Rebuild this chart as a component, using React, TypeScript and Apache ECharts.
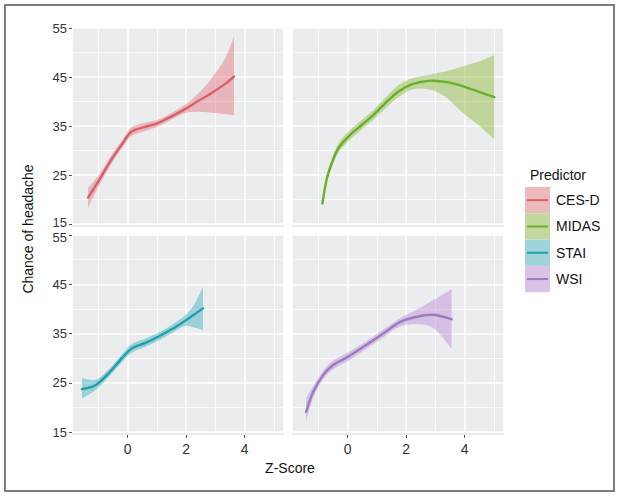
import React, { useEffect, useRef } from 'react';
import * as echarts from 'echarts';

// ---- data ----
const predictors = ['CES-D', 'MIDAS', 'STAI', 'WSI'];

const cesdX = [-1.35, -1.01, -0.56, -0.21, 0.07, 0.3, 0.7, 1.04, 1.38, 1.95, 2.41, 2.86, 3.32, 3.64];
const cesdMean = [20.4, 23.6, 28.1, 31.1, 33.5, 34.3, 35.0, 35.6, 36.6, 38.4, 40.1, 41.7, 43.5, 45.1];
const cesdUpper = [22.4, 24.8, 29.0, 31.9, 34.4, 35.2, 35.8, 36.3, 37.3, 39.3, 41.6, 44.6, 48.6, 53.2];
const cesdLower = [18.3, 22.4, 27.2, 30.3, 32.6, 33.4, 34.2, 34.9, 35.9, 37.6, 37.9, 37.7, 37.4, 37.2];

const midasX = [-0.86, -0.72, -0.54, -0.32, 0.02, 0.48, 0.82, 1.28, 1.73, 2.19, 2.76, 3.33, 3.9, 4.47, 5.02];
const midasMean = [19.2, 24.0, 27.4, 30.4, 32.8, 35.2, 36.9, 39.6, 42.0, 43.5, 44.2, 44.0, 43.2, 42.0, 40.9];
const midasUpper = [19.6, 24.6, 28.3, 31.4, 33.8, 36.2, 37.9, 40.7, 43.3, 44.7, 45.4, 46.1, 47.1, 48.1, 49.5];
const midasLower = [18.8, 23.4, 26.6, 29.5, 31.9, 34.3, 35.9, 38.5, 40.8, 42.4, 42.5, 41.0, 37.9, 35.2, 32.3];

const staiX = [-1.56, -1.1, -0.65, -0.19, 0.15, 0.61, 1.06, 1.52, 1.97, 2.27, 2.58];
const staiMean = [23.7, 24.5, 26.9, 30.0, 32.0, 33.1, 34.4, 35.9, 37.6, 38.8, 40.1];
const staiUpper = [26.0, 25.6, 27.7, 30.8, 32.9, 34.0, 35.2, 36.8, 38.7, 40.8, 44.5];
const staiLower = [21.8, 23.5, 26.1, 29.2, 31.1, 32.3, 33.6, 35.1, 36.5, 36.2, 35.7];

const wsiX = [-1.42, -1.17, -0.83, -0.49, 0.02, 0.65, 1.22, 1.79, 2.36, 2.93, 3.56];
const wsiMean = [19.1, 23.2, 26.6, 28.6, 30.3, 32.7, 35.0, 37.3, 38.4, 38.8, 37.9];
const wsiUpper = [21.8, 24.4, 27.5, 29.5, 31.2, 33.5, 35.8, 38.1, 39.8, 41.8, 44.0];
const wsiLower = [17.1, 22.0, 25.7, 27.7, 29.4, 31.9, 34.2, 36.4, 36.9, 36.1, 31.9];

const yMin = 15;
const yMax = 55;
const yStep = 10;
const xMin = -1.9;
const xMax = 5.35;

const xTitle = 'Z-Score';
const yTitle = 'Chance of headache';
const legendTitle = 'Predictor';

// ---- styling ----
const lineColors = ['#D6616A', '#6BAE2A', '#1FA0A8', '#9E7ABF'];
const fillColors = [
  'rgba(228,108,114,0.42)',
  'rgba(132,182,44,0.42)',
  'rgba(34,168,184,0.40)',
  'rgba(182,124,212,0.40)',
];
const FONT = '"Liberation Sans", Arial, Helvetica, sans-serif';

// smooth curve helper (Catmull-Rom through the given pixel points)
function curveThrough(ctx: any, pts: number[][]) {
  const n = pts.length;
  for (let i = 0; i < n - 1; i++) {
    const p0 = pts[Math.max(i - 1, 0)];
    const p1 = pts[i];
    const p2 = pts[i + 1];
    const p3 = pts[Math.min(i + 2, n - 1)];
    const c1x = p1[0] + (p2[0] - p0[0]) / 6;
    const c1y = p1[1] + (p2[1] - p0[1]) / 6;
    const c2x = p2[0] - (p3[0] - p1[0]) / 6;
    const c2y = p2[1] - (p3[1] - p1[1]) / 6;
    ctx.bezierCurveTo(c1x, c1y, c2x, c2y, p2[0], p2[1]);
  }
}

const SmoothBand = (echarts.graphic as any).extendShape({
  shape: { up: [], lo: [] },
  buildPath(ctx: any, shape: any) {
    const up = shape.up as number[][];
    const lo = (shape.lo as number[][]).slice().reverse();
    if (!up.length) return;
    ctx.moveTo(up[0][0], up[0][1]);
    curveThrough(ctx, up);
    ctx.lineTo(lo[0][0], lo[0][1]);
    curveThrough(ctx, lo);
    ctx.closePath();
  },
});
const SmoothCurve = (echarts.graphic as any).extendShape({
  shape: { pts: [] },
  buildPath(ctx: any, shape: any) {
    const pts = shape.pts as number[][];
    if (!pts.length) return;
    ctx.moveTo(pts[0][0], pts[0][1]);
    curveThrough(ctx, pts);
  },
});
echarts.graphic.registerShape('smoothBand', SmoothBand);
echarts.graphic.registerShape('smoothCurve', SmoothCurve);

const App: React.FC = () => {
  const ref = useRef<HTMLDivElement>(null);

  useEffect(() => {
    if (!ref.current) return;
    const chart = echarts.init(ref.current, undefined, { renderer: 'svg' });

    const sets = [
      { x: cesdX, mean: cesdMean, upper: cesdUpper, lower: cesdLower },
      { x: midasX, mean: midasMean, upper: midasUpper, lower: midasLower },
      { x: staiX, mean: staiMean, upper: staiUpper, lower: staiLower },
      { x: wsiX, mean: wsiMean, upper: wsiUpper, lower: wsiLower },
    ];

    const panelW = 212;
    const lefts = [72, 292, 72, 292];
    const tops = [28, 28, 235, 235];
    const heights = [196, 196, 197, 197];

    const grids = lefts.map((l, i) => ({
      left: l,
      top: tops[i],
      width: panelW,
      height: heights[i],
      containLabel: false,
    }));

    const xAxes = lefts.map((_, i) => {
      const bottom = i >= 2;
      return {
        gridIndex: i,
        type: 'value',
        min: xMin,
        max: xMax,
        splitNumber: 4,
        offset: bottom ? 3 : 0,
        axisLine: { show: false, onZero: false },
        axisTick: { show: bottom, length: 3, lineStyle: { color: '#555', width: 1 } },
        axisLabel: {
          show: bottom,
          showMinLabel: false,
          showMaxLabel: false,
          fontSize: 14,
          color: '#333',
          fontFamily: FONT,
          margin: 7,
        },
        splitLine: { show: true, lineStyle: { color: '#ffffff', width: 1.5 } },
        minorTick: { show: false, splitNumber: 2 },
        minorSplitLine: { show: true, lineStyle: { color: '#ffffff', width: 0.8 } },
      };
    });

    const yAxes = lefts.map((_, i) => {
      const left = i % 2 === 0;
      const isTop = i < 2;
      return {
        gridIndex: i,
        type: 'value',
        min: yMin,
        max: yMax,
        interval: yStep,
        axisLine: { show: false, onZero: false },
        axisTick: { show: left, length: 3, lineStyle: { color: '#555', width: 1 } },
        axisLabel: {
          show: left,
          fontSize: 13,
          color: '#333',
          fontFamily: FONT,
          margin: 5,
          formatter: (v: number) => {
            if (isTop && v === yMin) return '{up|' + v + '}';
            if (!isTop && v === yMax) return '{dn|' + v + '}';
            return String(v);
          },
          rich: {
            up: { fontSize: 13, color: '#333', fontFamily: FONT, padding: [0, 0, 4, 0] },
            dn: { fontSize: 13, color: '#333', fontFamily: FONT, padding: [4, 0, 0, 0] },
          },
        },
        splitLine: { show: true, lineStyle: { color: '#ffffff', width: 1.6 } },
        minorTick: { show: false, splitNumber: 2 },
        minorSplitLine: { show: true, lineStyle: { color: '#ffffff', width: 0.8 } },
      };
    });

    const series: any[] = sets.map((s, i) => ({
      type: 'custom',
      name: predictors[i],
      xAxisIndex: i,
      yAxisIndex: i,
      data: s.x.map((x, k) => [x, s.lower[k], s.upper[k], s.mean[k]]),
      encode: { x: 0, y: [1, 2, 3] },
      silent: true,
      renderItem: (params: any, api: any) => {
        if (params.dataIndex !== 0) return null;
        const up = s.x.map((x, k) => api.coord([x, s.upper[k]]));
        const lo = s.x.map((x, k) => api.coord([x, s.lower[k]]));
        const md = s.x.map((x, k) => api.coord([x, s.mean[k]]));
        return {
          type: 'group',
          children: [
            {
              type: 'smoothBand',
              shape: { up, lo },
              style: { fill: fillColors[i], stroke: 'none' },
            },
            {
              type: 'smoothCurve',
              shape: { pts: md },
              style: {
                fill: 'none',
                stroke: lineColors[i],
                lineWidth: 2.4,
                lineCap: 'round',
                lineJoin: 'round',
              },
            },
          ],
        };
      },
      z: 3,
    }));

    const graphics: any[] = [];
    // panel backgrounds
    lefts.forEach((l, i) => {
      const t = i < 2 ? 27 : 234;
      const b = i < 2 ? 227 : 435;
      graphics.push({
        type: 'rect',
        z: -10,
        silent: true,
        shape: { x: l, y: t, width: panelW, height: b - t },
        style: { fill: '#EBECEE' },
      });
    });
    // outer border
    graphics.push({
      type: 'rect',
      z: 50,
      silent: true,
      shape: { x: 5, y: 5, width: 609, height: 486 },
      style: { fill: 'none', stroke: '#7d7d7d', lineWidth: 2 },
    });
    // axis titles
    graphics.push({
      type: 'text',
      x: 290,
      y: 468,
      style: {
        text: xTitle,
        fill: '#111',
        font: '14px ' + FONT,
        textAlign: 'center',
        textVerticalAlign: 'middle',
      },
    });
    graphics.push({
      type: 'text',
      x: 28,
      y: 229,
      rotation: Math.PI / 2,
      style: {
        text: yTitle,
        fill: '#111',
        font: '14px ' + FONT,
        textAlign: 'center',
        textVerticalAlign: 'middle',
      },
    });
    // legend
    graphics.push({
      type: 'text',
      x: 530,
      y: 175,
      style: {
        text: legendTitle,
        fill: '#111',
        font: '14px ' + FONT,
        textAlign: 'left',
        textVerticalAlign: 'middle',
      },
    });
    const keyH = 26.3;
    predictors.forEach((p, i) => {
      const y0 = 187 + i * keyH;
      graphics.push({
        type: 'rect',
        shape: { x: 525, y: y0, width: 25, height: keyH },
        style: { fill: '#F2F2F2' },
      });
      graphics.push({
        type: 'rect',
        shape: { x: 525, y: y0, width: 25, height: keyH },
        style: { fill: fillColors[i] },
      });
      graphics.push({
        type: 'line',
        shape: { x1: 527, y1: y0 + keyH / 2, x2: 548, y2: y0 + keyH / 2 },
        style: { stroke: lineColors[i], lineWidth: 2 },
      });
      graphics.push({
        type: 'text',
        x: 556,
        y: y0 + keyH / 2,
        style: {
          text: p,
          fill: '#111',
          font: '14px ' + FONT,
          textAlign: 'left',
          textVerticalAlign: 'middle',
        },
      });
    });

    chart.setOption({
      animation: false,
      backgroundColor: '#ffffff',
      grid: grids,
      xAxis: xAxes,
      yAxis: yAxes,
      series,
      graphic: { elements: graphics },
    });

    return () => chart.dispose();
  }, []);

  return (
    <div
      ref={ref}
      style={{ position: 'fixed', left: 0, top: 0, width: 621, height: 497 }}
    />
  );
};

export default App;
